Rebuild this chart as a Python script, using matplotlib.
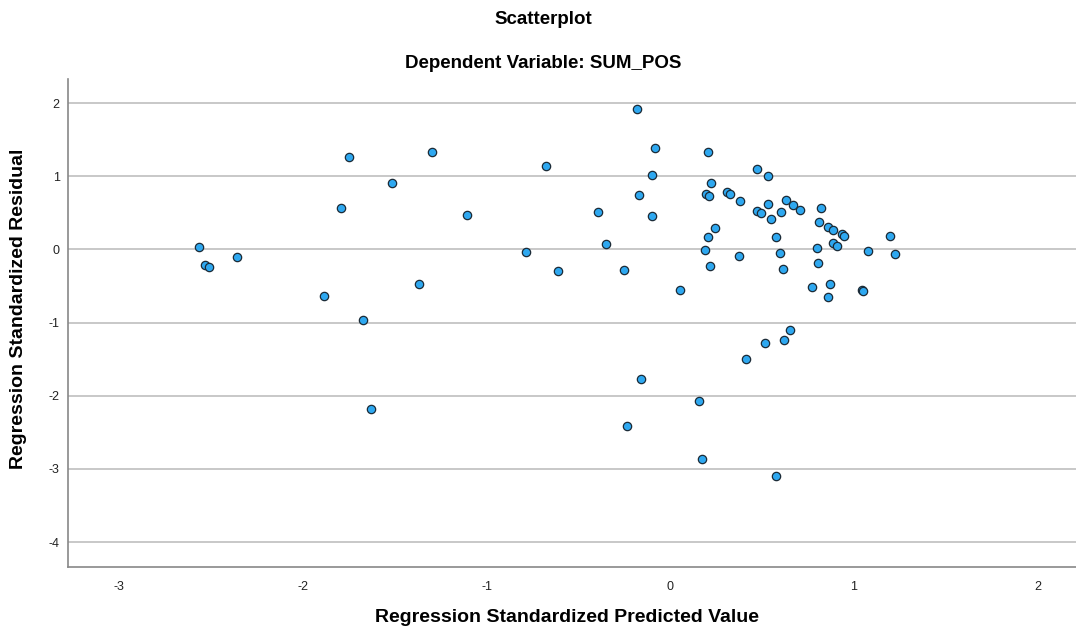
import matplotlib
matplotlib.use("Agg")
import matplotlib.pyplot as plt

predicted = [
    -2.564, -2.533, -2.513, -2.357, -1.886, -1.795, -1.747, -1.673, -1.631,
    -1.518, -1.371, -1.297, -1.107, -0.786, -0.677, -0.613, -0.391, -0.351,
    -0.251, -0.236, -0.182, -0.169, -0.158, -0.100, -0.097, -0.083, 0.051,
    0.158, 0.175, 0.191, 0.193, 0.204, 0.205, 0.209, 0.215, 0.224, 0.245,
    0.311, 0.324, 0.375, 0.382, 0.415, 0.475, 0.475, 0.496, 0.517, 0.533,
    0.533, 0.547, 0.578, 0.578, 0.596, 0.605, 0.616, 0.618, 0.629, 0.655,
    0.671, 0.709, 0.771, 0.798, 0.804, 0.811, 0.822, 0.860, 0.860, 0.869,
    0.888, 0.888, 0.909, 0.933, 0.948, 1.042, 1.051, 1.076, 1.195, 1.224,
]
residual = [
    0.027, -0.219, -0.246, -0.100, -0.638, 0.568, 1.265, -0.966, -2.186,
    0.906, -0.474, 1.336, 0.469, -0.033, 1.142, -0.300, 0.510, 0.068,
    -0.283, -2.414, 1.921, 0.746, -1.776, 0.451, 1.015, 1.384, -0.560,
    -2.072, -2.860, -0.005, 0.760, 1.329, 0.168, 0.732, -0.224, 0.910, 0.300,
    0.779, 0.755, -0.092, 0.664, -1.503, 1.101, 0.523, 0.492, -1.275, 1.006,
    0.623, 0.410, 0.172, -3.100, -0.055, 0.510, -0.273, -1.239, 0.673, -1.102,
    0.601, 0.546, -0.515, 0.018, -0.183, 0.382, 0.564, 0.309, -0.656, -0.474,
    0.264, 0.082, 0.045, 0.209, 0.178, -0.556, -0.565, -0.023, 0.178, -0.060,
]

x_ticks = [-3, -2, -1, 0, 1, 2]
y_ticks = [-4, -3, -2, -1, 0, 1, 2]

title = "Scatterplot"
subtitle = "Dependent Variable: SUM_POS"
x_label = "Regression Standardized Predicted Value"
y_label = "Regression Standardized Residual"

plt.rcParams["font.family"] = ["Liberation Sans", "DejaVu Sans"]

W, H = 1076, 630
fig = plt.figure(figsize=(W / 100, H / 100), dpi=100)
ax = fig.add_axes([68 / W, 1 - 567 / H, 1 - 68 / W, (567 - 79) / H])

ax.set_xlim(-3.28, 2.21)
ax.set_ylim(-4.34, 2.33)

ax.set_yticks(y_ticks)
ax.set_xticks(x_ticks)
ax.set_yticklabels([str(v) for v in y_ticks])
ax.set_xticklabels([str(v) for v in x_ticks])
ax.yaxis.grid(True, color="#c8c8c8", linewidth=1.4)
ax.xaxis.grid(False)
ax.set_axisbelow(True)
ax.tick_params(axis="both", length=0, labelsize=9, colors="#222222")
ax.tick_params(axis="x", pad=10)
ax.tick_params(axis="y", pad=6)

for side in ("top", "right"):
    ax.spines[side].set_visible(False)
for side in ("left", "bottom"):
    ax.spines[side].set_color("#888888")
    ax.spines[side].set_linewidth(1.2)

ax.scatter(predicted, residual, s=36, facecolor="#2ea8f0", edgecolor="#1b2a36",
           linewidth=0.9, zorder=3)

fig.text(543 / W, 1 - 19 / H, title, ha="center", va="center",
         fontsize=13.5, fontweight="bold")
fig.text(543 / W, 1 - 63 / H, subtitle, ha="center", va="center",
         fontsize=13.5, fontweight="bold")
fig.text(567 / W, 1 - 618 / H, x_label, ha="center", va="center",
         fontsize=14, fontweight="bold")
fig.text(19 / W, 1 - 309 / H, y_label, ha="center", va="center",
         rotation=90, fontsize=14, fontweight="bold")

fig.savefig("out.png", dpi=100)
